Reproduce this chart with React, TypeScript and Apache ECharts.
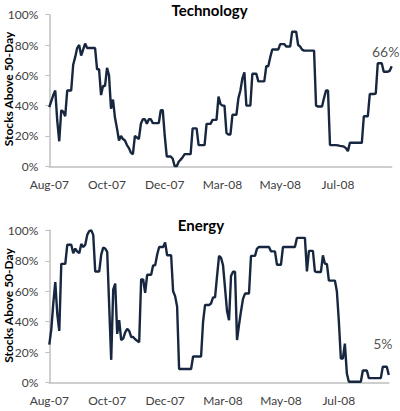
import React, { useEffect, useRef } from "react";
import * as echarts from "echarts";

// Share of sector stocks trading above their 50-day moving average (daily closes)
const tickLabels = ["Aug-07", "Oct-07", "Dec-07", "Mar-08", "May-08", "Jul-08"];
const labelStep = 29;

const technology = [
  39, 43, 47, 50, 30, 16.5, 37, 36, 33, 50,
  50, 50, 67, 72, 78, 80, 73, 77, 81, 78,
  78, 78, 78, 78, 64, 64, 47, 53, 53, 65,
  60, 38, 44, 32, 25, 17, 20, 18, 17, 14,
  12, 9, 8, 20, 19, 18, 28, 31, 31, 28,
  31, 31, 28.5, 28.5, 28.5, 28.5, 37, 37, 20, 6.5,
  6.5, 6.5, 5, 0, 0, 3, 4.4, 6, 8, 8,
  8, 8, 25, 25, 25, 14, 14, 14, 14, 28,
  28, 28, 30.6, 30.6, 30.6, 46, 41, 40, 40, 22,
  21, 21, 34, 34, 34, 45, 50, 58, 62, 40,
  40, 40, 61, 61, 61, 56, 56, 56, 56, 66,
  66, 72, 77, 77, 77, 77, 80.6, 80.6, 80.6, 79,
  79, 79, 88.8, 88.8, 88.8, 80, 79, 77, 76.3, 76.3,
  76.3, 76.3, 76.3, 76.3, 40, 39.4, 39.4, 39.4, 45, 50,
  50, 14, 14, 14, 14, 13.8, 13.5, 13.3, 13, 12,
  10, 15.5, 15.5, 15.5, 15.5, 15.5, 15.5, 15.5, 33, 33,
  33, 47.7, 47.7, 47.7, 48, 68, 68, 68, 62.4, 62.4,
  62.4, 63, 66,
];

const energy = [
  25, 35, 52, 66, 45, 34, 78, 78, 78, 90.5,
  90.5, 90.5, 85, 88, 86, 85, 91, 89, 90.5, 97,
  99.5, 100, 97, 73, 73, 73, 84, 88.6, 88, 85.8,
  50, 15, 61, 65, 32, 41, 28, 29, 33, 35.4,
  34, 30, 30, 28.5, 27.5, 26.6, 67.8, 67.8, 59, 70.8,
  70.8, 70.8, 77, 77, 84, 89, 89, 89, 92, 83.6,
  83.6, 83.6, 60, 56.8, 50, 9, 9, 9, 9, 9,
  9, 9, 17.2, 17.2, 17.2, 17.2, 17.2, 40, 51, 51,
  51, 52, 56, 56, 70, 83.3, 82, 77, 62, 47,
  41, 70, 72.8, 72.8, 28, 38, 47, 55, 58.5, 58.5,
  58.5, 83.2, 83.2, 83.2, 88, 89, 89, 89, 89, 89,
  89, 86.2, 86.2, 86.2, 77.4, 77.4, 77.4, 89, 89, 89,
  89, 89, 89, 89, 95, 95, 95, 95, 95, 73,
  86.5, 86.5, 86.5, 73, 72.6, 72.6, 72.6, 83.6, 78, 78,
  67, 67, 67, 67, 60, 40, 15.8, 15.8, 25.6, 6,
  0.6, 0.6, 0.6, 0.6, 0.6, 0.6, 0.6, 8, 8, 8,
  3, 3, 3, 3, 3, 3, 3, 10.5, 10.5, 10.5,
  5,
];

const FONT = "Lato";
const LINE_COLOR = "#16273f";
const AXIS_COLOR = "#bfbfbf";
const LABEL_COLOR = "#404040";

function xAxisFor(gridIndex: number, max: number) {
  return {
    type: "value" as const,
    gridIndex,
    min: 0,
    max,
    interval: labelStep,
    splitLine: { show: false },
    axisTick: { show: false },
    axisLine: { show: true, lineStyle: { color: AXIS_COLOR, width: 1.5 } },
    axisLabel: {
      margin: 12,
      fontFamily: FONT,
      fontSize: 12,
      color: LABEL_COLOR,
      showMaxLabel: false,
      formatter: (v: number) =>
        v % labelStep === 0 ? tickLabels[v / labelStep] ?? "" : "",
    },
  };
}

function yAxisFor(gridIndex: number) {
  return {
    type: "value" as const,
    gridIndex,
    min: 0,
    max: 100,
    interval: 20,
    splitLine: { show: false },
    axisLine: { show: true, lineStyle: { color: AXIS_COLOR, width: 1.5 } },
    axisTick: { show: true, length: 4, lineStyle: { color: AXIS_COLOR } },
    axisLabel: {
      margin: 11,
      fontFamily: FONT,
      fontSize: 12,
      color: LABEL_COLOR,
      formatter: "{value}%",
    },
  };
}

function sectorSeries(values: number[], idx: number, offset: number[]) {
  const last = values.length - 1;
  return [
    {
      type: "line" as const,
      xAxisIndex: idx,
      yAxisIndex: idx,
      data: values.map((v, i) => [i, v]),
      symbol: "none",
      lineStyle: { color: LINE_COLOR, width: 2.4 },
      z: 3,
    },
    {
      type: "scatter" as const,
      xAxisIndex: idx,
      yAxisIndex: idx,
      data: [[last, values[last]]],
      symbolSize: 0,
      silent: true,
      label: {
        show: true,
        position: "top",
        offset,
        fontFamily: FONT,
        fontSize: 14,
        color: "#262626",
        formatter: (p: any) => `${p.value[1]}%`,
      },
    },
  ];
}

function titleText(text: string, x: number, y: number) {
  return {
    type: "text" as const,
    x,
    y,
    style: {
      text,
      fontFamily: FONT,
      fontWeight: "bold",
      fontSize: 15,
      fill: "#000000",
      textAlign: "center",
      textVerticalAlign: "middle",
    },
  };
}

function axisTitle(y: number) {
  return {
    type: "text" as const,
    x: 8.5,
    y,
    rotation: Math.PI / 2,
    style: {
      text: "Stocks Above 50-Day",
      fontFamily: FONT,
      fontWeight: "bold",
      fontSize: 12,
      fill: "#000000",
      textAlign: "center",
      textVerticalAlign: "middle",
    },
  };
}

export default function App() {
  const ref = useRef<HTMLDivElement>(null);

  useEffect(() => {
    if (!ref.current) return;
    const chart = echarts.init(ref.current, undefined, { renderer: "svg" });
    chart.setOption({
      animation: false,
      backgroundColor: "#ffffff",
      grid: [
        { left: 49.3, top: 14.7, width: 342.4, height: 151.6 },
        { left: 49.3, top: 230.3, width: 339.5, height: 152.4 },
      ],
      xAxis: [
        xAxisFor(0, technology.length - 1),
        xAxisFor(1, energy.length - 1),
      ],
      yAxis: [yAxisFor(0), yAxisFor(1)],
      series: [
        ...sectorSeries(technology, 0, [-6, -3]),
        ...sectorSeries(energy, 1, [-6, -20]),
      ],
      graphic: [
        titleText("Technology", 209.5, 9.5),
        titleText("Energy", 201, 225),
        axisTitle(89),
        axisTitle(305.5),
      ],
    });
    return () => chart.dispose();
  }, []);

  return (
    <div
      ref={ref}
      style={{ position: "fixed", left: 0, top: 0, width: 400, height: 411 }}
    />
  );
}
